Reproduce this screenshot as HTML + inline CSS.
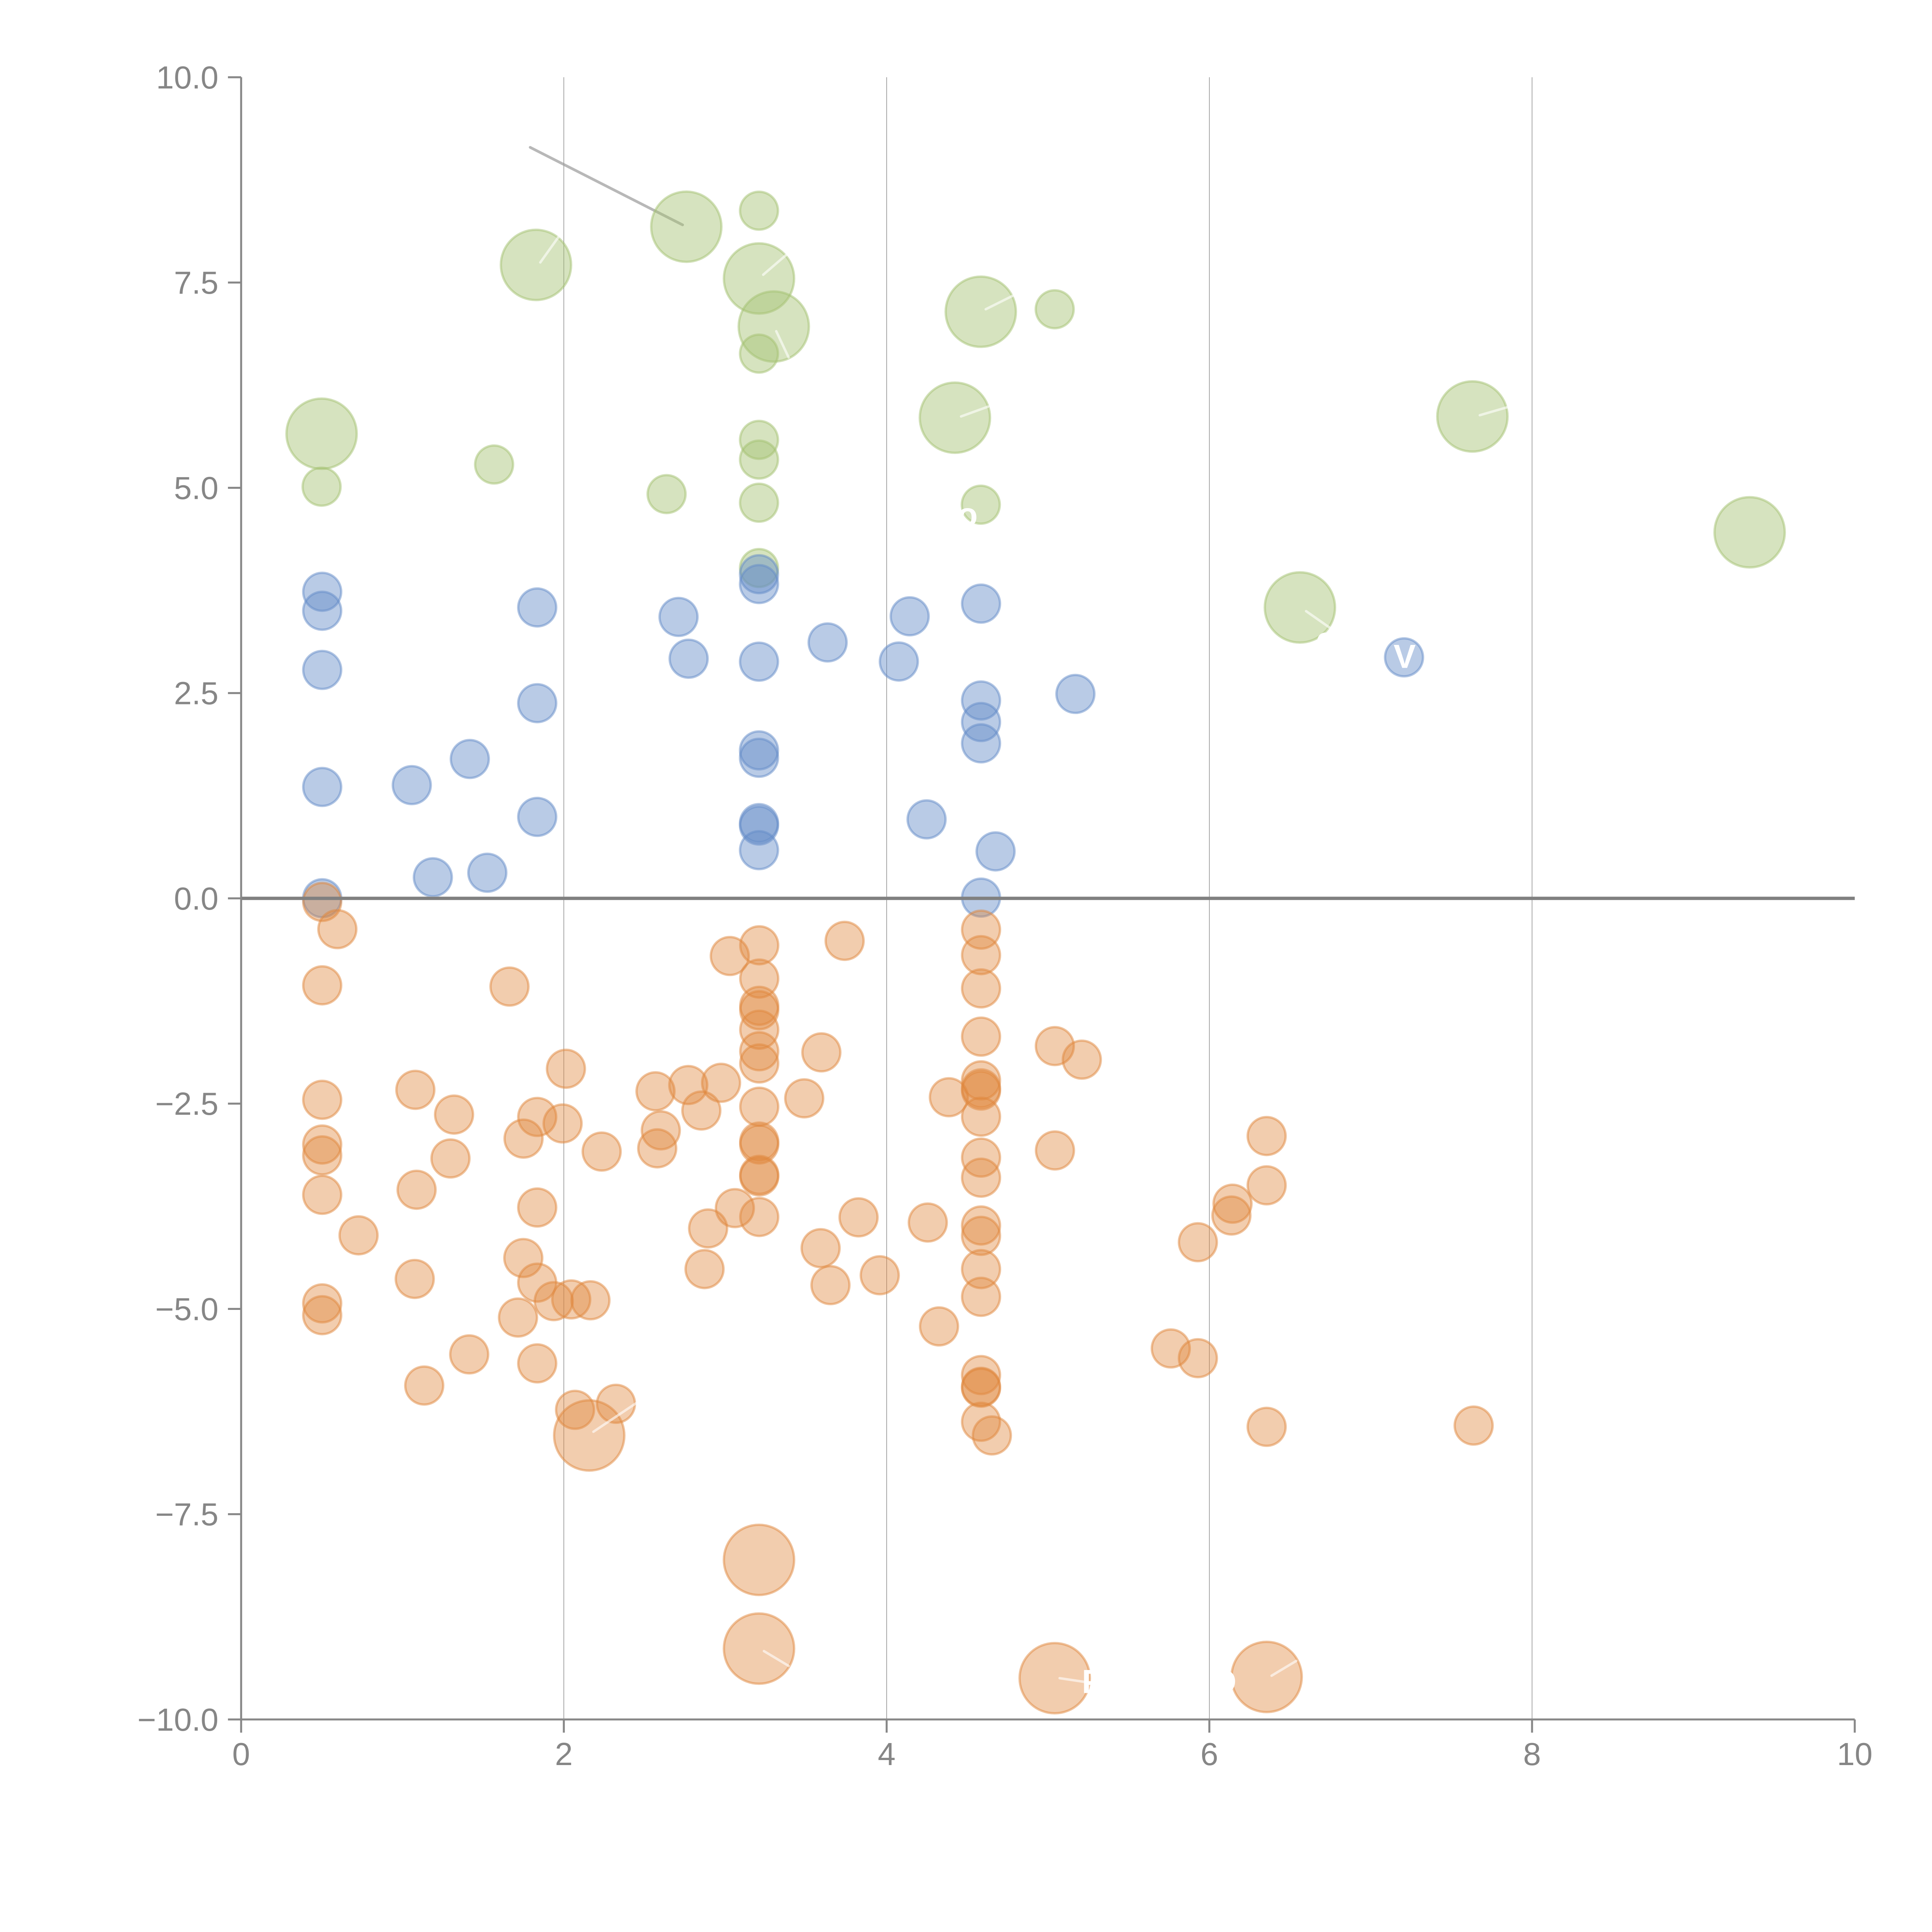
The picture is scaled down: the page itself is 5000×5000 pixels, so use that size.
<!DOCTYPE html>
<html>
<head>
<meta charset="utf-8">
<style>
html,body{margin:0;padding:0;background:#fff;}
svg{display:block;}
text{font-family:"Liberation Sans",Arial,sans-serif;}
</style>
</head>
<body>
<svg width="5000" height="5000" viewBox="0 0 1568 1568" xmlns="http://www.w3.org/2000/svg">
<rect x="0" y="0" width="1568" height="1568" fill="#ffffff"/>
<g stroke="#666" stroke-width="0.4" opacity="0.9">
<line x1="457.6" y1="62.7" x2="457.6" y2="1395.5"/>
<line x1="719.6" y1="62.7" x2="719.6" y2="1395.5"/>
<line x1="981.5" y1="62.7" x2="981.5" y2="1395.5"/>
<line x1="1243.4" y1="62.7" x2="1243.4" y2="1395.5"/>
</g>
<line x1="430.3" y1="119.6" x2="554" y2="182.5" stroke="#9a9a9a" stroke-opacity="0.7" stroke-width="2.2" stroke-linecap="round"/>
<g fill="#a4c171" fill-opacity="0.45" stroke="#a4c171" stroke-opacity="0.5" stroke-width="1.9">
<circle cx="616" cy="171" r="15.4"/>
<circle cx="856" cy="251" r="15.4"/>
<circle cx="616" cy="287" r="15.4"/>
<circle cx="401" cy="377" r="15.4"/>
<circle cx="261" cy="395" r="15.4"/>
<circle cx="541" cy="401" r="15.4"/>
<circle cx="616" cy="357" r="15.4"/>
<circle cx="616" cy="373" r="15.4"/>
<circle cx="616" cy="408" r="15.4"/>
<circle cx="796" cy="409.6" r="15.4"/>
<circle cx="616" cy="461" r="15.4"/>
<circle cx="557" cy="184" r="28.5"/>
<circle cx="435" cy="215" r="28.5"/>
<circle cx="616" cy="226" r="28.5"/>
<circle cx="628" cy="265" r="28.5"/>
<circle cx="796" cy="253" r="28.5"/>
<circle cx="261" cy="352" r="28.5"/>
<circle cx="775" cy="339" r="28.5"/>
<circle cx="1195" cy="338" r="28.5"/>
<circle cx="1420" cy="432" r="28.5"/>
<circle cx="1055" cy="493" r="28.5"/>
</g>
<g fill="#648cc8" fill-opacity="0.45" stroke="#648cc8" stroke-opacity="0.5" stroke-width="1.9">
<circle cx="261.5" cy="480.3" r="15.4"/>
<circle cx="261.5" cy="495.7" r="15.4"/>
<circle cx="261.5" cy="543.7" r="15.4"/>
<circle cx="261.5" cy="638.7" r="15.4"/>
<circle cx="261.5" cy="729" r="15.4"/>
<circle cx="334.2" cy="637.2" r="15.4"/>
<circle cx="351.3" cy="712" r="15.4"/>
<circle cx="381.3" cy="616" r="15.4"/>
<circle cx="395.5" cy="708.3" r="15.4"/>
<circle cx="436" cy="493" r="15.4"/>
<circle cx="436" cy="570.7" r="15.4"/>
<circle cx="436" cy="663" r="15.4"/>
<circle cx="550.7" cy="500.7" r="15.4"/>
<circle cx="558.9" cy="534.6" r="15.4"/>
<circle cx="616" cy="466" r="15.4"/>
<circle cx="616" cy="474" r="15.4"/>
<circle cx="616" cy="537" r="15.4"/>
<circle cx="616" cy="609" r="15.4"/>
<circle cx="616" cy="615" r="15.4"/>
<circle cx="616" cy="668" r="15.4"/>
<circle cx="616" cy="670" r="15.4"/>
<circle cx="616" cy="690" r="15.4"/>
<circle cx="671.7" cy="521.4" r="15.4"/>
<circle cx="729.5" cy="536.9" r="15.4"/>
<circle cx="738.3" cy="500.2" r="15.4"/>
<circle cx="752" cy="665" r="15.4"/>
<circle cx="796.2" cy="489.9" r="15.4"/>
<circle cx="796.2" cy="568.5" r="15.4"/>
<circle cx="796.2" cy="586" r="15.4"/>
<circle cx="796.2" cy="603.3" r="15.4"/>
<circle cx="796.2" cy="728.5" r="15.4"/>
<circle cx="808" cy="691" r="15.4"/>
<circle cx="872.8" cy="563.2" r="15.4"/>
<circle cx="1139.5" cy="533.5" r="15.4"/>
</g>
<g fill="#e0873e" fill-opacity="0.42" stroke="#e0873e" stroke-opacity="0.5" stroke-width="1.9">
<circle cx="261.5" cy="732" r="15.4"/>
<circle cx="273.8" cy="754.1" r="15.4"/>
<circle cx="261.5" cy="799.7" r="15.4"/>
<circle cx="261.5" cy="892.6" r="15.4"/>
<circle cx="261.5" cy="928.9" r="15.4"/>
<circle cx="261.5" cy="937.7" r="15.4"/>
<circle cx="261.5" cy="969.7" r="15.4"/>
<circle cx="261.5" cy="1057.8" r="15.4"/>
<circle cx="261.5" cy="1067.4" r="15.4"/>
<circle cx="291" cy="1002.6" r="15.4"/>
<circle cx="337.1" cy="884.5" r="15.4"/>
<circle cx="338.1" cy="965.6" r="15.4"/>
<circle cx="336.6" cy="1038" r="15.4"/>
<circle cx="344.3" cy="1124.5" r="15.4"/>
<circle cx="365.6" cy="940.2" r="15.4"/>
<circle cx="368.5" cy="904.6" r="15.4"/>
<circle cx="380.8" cy="1099.2" r="15.4"/>
<circle cx="413.5" cy="800.7" r="15.4"/>
<circle cx="420.4" cy="1069.3" r="15.4"/>
<circle cx="424.9" cy="924.1" r="15.4"/>
<circle cx="424.7" cy="1021" r="15.4"/>
<circle cx="436" cy="906.5" r="15.4"/>
<circle cx="436" cy="980" r="15.4"/>
<circle cx="436" cy="1041" r="15.4"/>
<circle cx="436" cy="1106.5" r="15.4"/>
<circle cx="449.4" cy="1056" r="15.4"/>
<circle cx="456.6" cy="911.8" r="15.4"/>
<circle cx="459.3" cy="867.4" r="15.4"/>
<circle cx="463.6" cy="1054.6" r="15.4"/>
<circle cx="466.7" cy="1144.2" r="15.4"/>
<circle cx="479.2" cy="1055.3" r="15.4"/>
<circle cx="488.3" cy="934.6" r="15.4"/>
<circle cx="499.9" cy="1139.3" r="15.4"/>
<circle cx="532" cy="885.7" r="15.4"/>
<circle cx="536.3" cy="917.4" r="15.4"/>
<circle cx="533.4" cy="932" r="15.4"/>
<circle cx="558.6" cy="880.6" r="15.4"/>
<circle cx="569.2" cy="901.3" r="15.4"/>
<circle cx="571.8" cy="1030" r="15.4"/>
<circle cx="574.7" cy="997" r="15.4"/>
<circle cx="585.2" cy="878.8" r="15.4"/>
<circle cx="592.3" cy="775.9" r="15.4"/>
<circle cx="596.4" cy="980.5" r="15.4"/>
<circle cx="616.2" cy="767.2" r="15.4"/>
<circle cx="616.2" cy="794.2" r="15.4"/>
<circle cx="616.2" cy="816.3" r="15.4"/>
<circle cx="616.2" cy="819.9" r="15.4"/>
<circle cx="616.2" cy="835.7" r="15.4"/>
<circle cx="616.2" cy="853.2" r="15.4"/>
<circle cx="616.2" cy="863.1" r="15.4"/>
<circle cx="616.2" cy="898.2" r="15.4"/>
<circle cx="616.2" cy="926.5" r="15.4"/>
<circle cx="616.2" cy="928.8" r="15.4"/>
<circle cx="616.2" cy="953.5" r="15.4"/>
<circle cx="616.2" cy="954.8" r="15.4"/>
<circle cx="616.2" cy="987.7" r="15.4"/>
<circle cx="652.7" cy="891.4" r="15.4"/>
<circle cx="666.6" cy="854.1" r="15.4"/>
<circle cx="666" cy="1013" r="15.4"/>
<circle cx="674" cy="1043" r="15.4"/>
<circle cx="685.5" cy="763.6" r="15.4"/>
<circle cx="696.8" cy="988" r="15.4"/>
<circle cx="714" cy="1035" r="15.4"/>
<circle cx="753" cy="992.2" r="15.4"/>
<circle cx="762.1" cy="1076.5" r="15.4"/>
<circle cx="770.1" cy="890.5" r="15.4"/>
<circle cx="796.2" cy="754.5" r="15.4"/>
<circle cx="796.2" cy="775.2" r="15.4"/>
<circle cx="796.2" cy="802.2" r="15.4"/>
<circle cx="796.2" cy="841.3" r="15.4"/>
<circle cx="796.2" cy="876.8" r="15.4"/>
<circle cx="796.2" cy="883.3" r="15.4"/>
<circle cx="796.2" cy="885.1" r="15.4"/>
<circle cx="796.2" cy="906.3" r="15.4"/>
<circle cx="796.2" cy="939.5" r="15.4"/>
<circle cx="796.2" cy="955.8" r="15.4"/>
<circle cx="796.2" cy="994.6" r="15.4"/>
<circle cx="796.2" cy="1003" r="15.4"/>
<circle cx="796.2" cy="1030" r="15.4"/>
<circle cx="796.2" cy="1052.5" r="15.4"/>
<circle cx="796.2" cy="1116" r="15.4"/>
<circle cx="796.2" cy="1125.5" r="15.4"/>
<circle cx="796.2" cy="1126.3" r="15.4"/>
<circle cx="796.2" cy="1153.9" r="15.4"/>
<circle cx="805" cy="1165" r="15.4"/>
<circle cx="856.1" cy="849" r="15.4"/>
<circle cx="856.2" cy="933.7" r="15.4"/>
<circle cx="878" cy="860" r="15.4"/>
<circle cx="950.2" cy="1094.4" r="15.4"/>
<circle cx="972.2" cy="1008.2" r="15.4"/>
<circle cx="972.2" cy="1102.3" r="15.4"/>
<circle cx="1000.3" cy="976.9" r="15.4"/>
<circle cx="999.4" cy="986.5" r="15.4"/>
<circle cx="1028" cy="922" r="15.4"/>
<circle cx="1028" cy="962" r="15.4"/>
<circle cx="1028" cy="1158" r="15.4"/>
<circle cx="1196" cy="1157" r="15.4"/>
<circle cx="478.2" cy="1165" r="28.5"/>
<circle cx="616" cy="1266" r="28.5"/>
<circle cx="616" cy="1338" r="28.5"/>
<circle cx="856" cy="1362" r="28.5"/>
<circle cx="1028" cy="1361" r="28.5"/>
</g>
<g stroke="#ffffff" stroke-opacity="0.6" stroke-width="2" stroke-linecap="round" fill="none">
<line x1="438.5" y1="213" x2="453.5" y2="192"/>
<line x1="619.4" y1="223" x2="638" y2="207"/>
<line x1="630" y1="268.8" x2="640" y2="290"/>
<line x1="800" y1="251" x2="822" y2="240"/>
<line x1="780" y1="338" x2="802" y2="330"/>
<line x1="1201" y1="337" x2="1225" y2="330"/>
<line x1="1060" y1="496" x2="1080" y2="510"/>
<line x1="481.6" y1="1162" x2="516" y2="1139"/>
<line x1="620" y1="1340" x2="640" y2="1352"/>
<line x1="860" y1="1362" x2="880" y2="1365"/>
<line x1="1032" y1="1360" x2="1052" y2="1348"/>
</g>
<g fill="#ffffff" font-weight="bold" font-size="27">
<text x="1131" y="542">V</text>
<text x="1068" y="528">o</text>
<text x="777" y="427">o</text>
<text x="878" y="1374">P</text>
<text x="984" y="1374">D</text>
</g>
<line x1="195.7" y1="729.1" x2="1505.3" y2="729.1" stroke="#808080" stroke-width="2.7"/>
<g stroke="#878787" stroke-width="1.6" fill="none">
<line x1="195.7" y1="62.7" x2="195.7" y2="1395.5"/>
<line x1="195.7" y1="1395.5" x2="1505.3" y2="1395.5"/>
<line x1="185" y1="62.7" x2="195.7" y2="62.7"/>
<line x1="185" y1="229.3" x2="195.7" y2="229.3"/>
<line x1="185" y1="395.9" x2="195.7" y2="395.9"/>
<line x1="185" y1="562.5" x2="195.7" y2="562.5"/>
<line x1="185" y1="729.1" x2="195.7" y2="729.1"/>
<line x1="185" y1="895.7" x2="195.7" y2="895.7"/>
<line x1="185" y1="1062.3" x2="195.7" y2="1062.3"/>
<line x1="185" y1="1228.9" x2="195.7" y2="1228.9"/>
<line x1="185" y1="1395.5" x2="195.7" y2="1395.5"/>
<line x1="195.7" y1="1395.5" x2="195.7" y2="1406.2"/>
<line x1="457.6" y1="1395.5" x2="457.6" y2="1406.2"/>
<line x1="719.6" y1="1395.5" x2="719.6" y2="1406.2"/>
<line x1="981.5" y1="1395.5" x2="981.5" y2="1406.2"/>
<line x1="1243.4" y1="1395.5" x2="1243.4" y2="1406.2"/>
<line x1="1505.3" y1="1395.5" x2="1505.3" y2="1406.2"/>
</g>
<g fill="#868686" font-size="26">
<g text-anchor="end">
<text x="177.3" y="71.8">10.0</text>
<text x="177.3" y="238.4">7.5</text>
<text x="177.3" y="405">5.0</text>
<text x="177.3" y="571.6">2.5</text>
<text x="177.3" y="738.2">0.0</text>
<text x="177.3" y="904.8">−2.5</text>
<text x="177.3" y="1071.4">−5.0</text>
<text x="177.3" y="1238">−7.5</text>
<text x="177.3" y="1404.6">−10.0</text>
</g>
<g text-anchor="middle">
<text x="195.7" y="1432.5">0</text>
<text x="457.6" y="1432.5">2</text>
<text x="719.6" y="1432.5">4</text>
<text x="981.5" y="1432.5">6</text>
<text x="1243.4" y="1432.5">8</text>
<text x="1505.3" y="1432.5">10</text>
</g>
</g>
</svg>
</body>
</html>
